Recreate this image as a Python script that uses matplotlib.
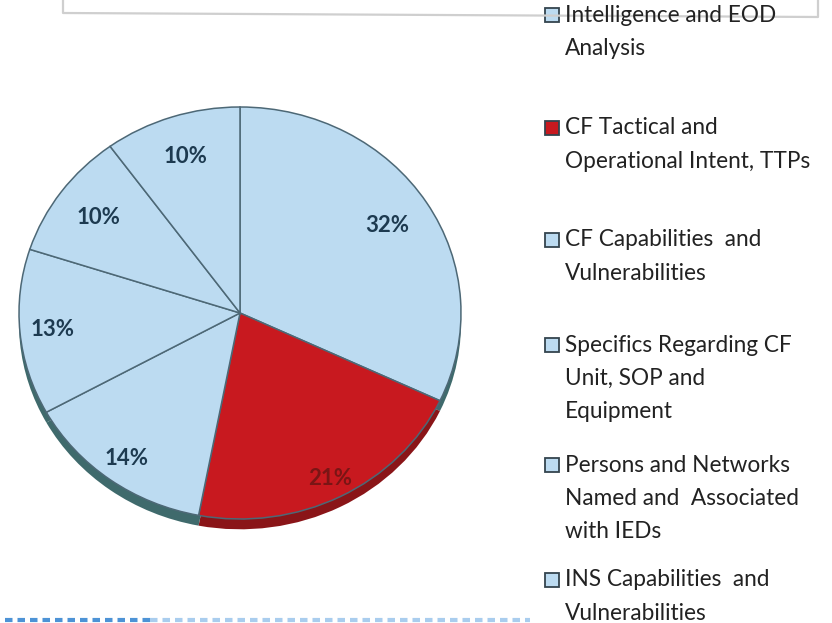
import matplotlib.pyplot as plt
import numpy as np
from matplotlib.patches import Rectangle
from matplotlib.lines import Line2D

plt.rcParams['font.family'] = ['Lato', 'DejaVu Sans']

categories = ["Intelligence and EOD\nAnalysis",
              "CF Tactical and\nOperational Intent, TTPs",
              "CF Capabilities  and\nVulnerabilities",
              "Specifics Regarding CF\nUnit, SOP and\nEquipment",
              "Persons and Networks\nNamed and  Associated\nwith IEDs",
              "INS Capabilities  and\nVulnerabilities"]
shares = [32, 21, 14, 13, 10, 10]

blue = "#bcdbf1"
red = "#c8191f"
colors = [blue, red, blue, blue, blue, blue]
rim_colors = ["#3f6a6c", "#8a1518", "#3f6a6c", "#3f6a6c", "#3f6a6c", "#3f6a6c"]
pct_colors = ["#1d3a50", "#7a1515", "#1d3a50", "#1d3a50", "#1d3a50", "#1d3a50"]
pct_dist = [0.79, 0.90, 0.875, 0.85, 0.79, 0.80]

W, H = 832, 623
fig = plt.figure(figsize=(W / 100, H / 100), dpi=100)

# pie is a flattened disc: 221 px per unit across, 206 px per unit down
cx, cy, rx, ry = 240, 313, 221, 206
xl, xr, yt, yb = 1.03, 1.03, 1.03, 1.08
ax = fig.add_axes([(cx - xl * rx) / W, (H - (cy + yb * ry)) / H,
                   (xl + xr) * rx / W, (yt + yb) * ry / H])

# dark rim under the lower edge
ax.pie(shares, startangle=90, counterclock=False, colors=rim_colors,
       center=(0, -0.05), wedgeprops=dict(linewidth=0))
wedges, _, pcts = ax.pie(shares, startangle=90, counterclock=False, colors=colors,
                         autopct=lambda p: f"{p:.0f}%",
                         wedgeprops=dict(edgecolor="#4d6876", linewidth=1.1),
                         textprops=dict(fontsize=16, fontweight="bold"))
for w, t, d, c in zip(wedges, pcts, pct_dist, pct_colors):
    mid = np.deg2rad((w.theta1 + w.theta2) / 2)
    t.set_position((d * np.cos(mid), d * np.sin(mid)))
    t.set_color(c)
ax.set_aspect("auto")
ax.set_xlim(-xl, xr)
ax.set_ylim(-yb, yt)
ax.axis("off")

# legend, drawn entry by entry
entry_y = [15, 128, 240, 345, 465, 580]
step = 33.5
for lab, c, y0 in zip(categories, colors, entry_y):
    fig.add_artist(Rectangle((545 / W, 1 - (y0 + 7) / H), 14 / W, 14 / H,
                             facecolor=c, edgecolor="#34444e", linewidth=1.3,
                             transform=fig.transFigure))
    for i, line in enumerate(lab.split("\n")):
        fig.text(565 / W, 1 - (y0 + i * step) / H, line, fontsize=16.3,
                 color="#222222", va="center", ha="left")

# frame edge along the top and dotted rule at the bottom
fig.add_artist(Line2D([63 / W, 63 / W, 818 / W, 818 / W],
                      [1, 1 - 13 / H, 1 - 17 / H, 1],
                      color="#cfcfcf", lw=1.6, transform=fig.transFigure))
fig.add_artist(Line2D([5 / W, 150 / W], [1 - 620 / H] * 2, color="#4d93d6",
                      lw=3, ls=(0, (1.8, 1.2)), transform=fig.transFigure))
fig.add_artist(Line2D([150 / W, 530 / W], [1 - 620 / H] * 2, color="#a9cdee",
                      lw=3, ls=(0, (1.8, 1.2)), transform=fig.transFigure))

fig.savefig("out.png", dpi=100)
